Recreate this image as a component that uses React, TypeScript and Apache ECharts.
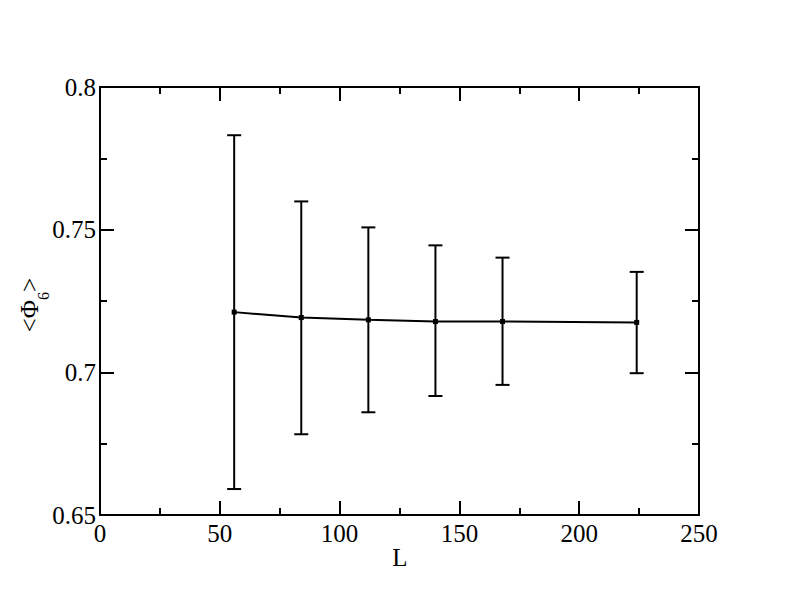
import React, { useEffect, useRef } from "react";
import * as echarts from "echarts";

const L = [56, 84, 112, 140, 168, 224];
const phi6 = [0.7211, 0.7192, 0.7184, 0.7178, 0.7178, 0.7175];
const errUp = [0.0620, 0.0407, 0.0324, 0.0267, 0.0224, 0.0177];
const errDown = [0.0620, 0.0409, 0.0324, 0.0261, 0.0222, 0.0178];
const xTicks = [0, 50, 100, 150, 200, 250];
const yTicks = [0.65, 0.7, 0.75, 0.8];

const FONT = "'Liberation Serif', 'Times New Roman', serif";

export default function App() {
  const ref = useRef<HTMLDivElement>(null);
  useEffect(() => {
    if (!ref.current) return;
    const chart = echarts.init(ref.current, null, { renderer: "svg" });
    const lineData = L.map((x, i) => [x, phi6[i]]);
    const errData = L.map((x, i) => [x, phi6[i] - errDown[i], phi6[i] + errUp[i]]);
    const axisCommon = {
      axisLine: { show: true, onZero: false, lineStyle: { color: "#000", width: 2 } },
      axisTick: { show: true, inside: true, length: 14, lineStyle: { color: "#000", width: 2 } },
      minorTick: { show: true, splitNumber: 2, length: 7, lineStyle: { color: "#000", width: 2 } },
      splitLine: { show: false },
      minorSplitLine: { show: false },
    };
    chart.setOption({
      animation: false,
      backgroundColor: "#fff",
      grid: { left: 100, right: 93, top: 87, bottom: 92, containLabel: false },
      xAxis: [
        {
          type: "value",
          position: "bottom",
          min: xTicks[0],
          max: xTicks[xTicks.length - 1],
          interval: 50,
          ...axisCommon,
          axisLabel: { color: "#000", fontSize: 25, fontFamily: FONT, margin: 6 },
        },
        {
          type: "value",
          position: "top",
          min: xTicks[0],
          max: xTicks[xTicks.length - 1],
          interval: 50,
          ...axisCommon,
          axisLabel: { show: false },
        },
      ],
      yAxis: [
        {
          type: "value",
          position: "left",
          min: yTicks[0],
          max: yTicks[yTicks.length - 1],
          interval: 0.05,
          ...axisCommon,
          axisLabel: {
            color: "#000",
            fontSize: 25,
            fontFamily: FONT,
            margin: 4,
            formatter: (v: number) => String(Math.round(v * 100) / 100),
          },
        },
        {
          type: "value",
          position: "right",
          min: yTicks[0],
          max: yTicks[yTicks.length - 1],
          interval: 0.05,
          ...axisCommon,
          axisLabel: { show: false },
        },
      ],
      graphic: [
        {
          type: "text",
          x: 400,
          y: 557,
          style: {
            text: "L",
            fill: "#000",
            fontSize: 25,
            fontFamily: FONT,
            align: "center",
            verticalAlign: "middle",
          },
        },
        {
          type: "text",
          x: 29,
          y: 305,
          rotation: Math.PI / 2,
          style: {
            text: "{a|<Φ}{s|6}{a|>}",
            fill: "#000",
            align: "center",
            verticalAlign: "middle",
            rich: {
              a: { fontSize: 25, fontFamily: FONT, lineHeight: 30, fill: "#000" },
              s: { fontSize: 16, fontFamily: FONT, lineHeight: 16, padding: [28, 0, 0, 0], fill: "#000" },
            },
          },
        },
      ],
      series: [
        {
          type: "line",
          data: lineData,
          symbol: "rect",
          symbolSize: 5,
          showSymbol: true,
          itemStyle: { color: "#000" },
          lineStyle: { color: "#000", width: 2 },
          z: 3,
        },
        {
          type: "custom",
          data: errData,
          encode: { x: 0, y: [1, 2] },
          renderItem: (params: any, api: any) => {
            const x = api.value(0);
            const lo = api.coord([x, api.value(1)]);
            const hi = api.coord([x, api.value(2)]);
            const w = 7;
            const st = { stroke: "#000", lineWidth: 2 };
            return {
              type: "group",
              children: [
                { type: "line", shape: { x1: hi[0], y1: hi[1], x2: lo[0], y2: lo[1] }, style: st },
                { type: "line", shape: { x1: hi[0] - w, y1: hi[1], x2: hi[0] + w, y2: hi[1] }, style: st },
                { type: "line", shape: { x1: lo[0] - w, y1: lo[1], x2: lo[0] + w, y2: lo[1] }, style: st },
              ],
            };
          },
          z: 2,
        },
      ],
    });
    return () => chart.dispose();
  }, []);
  return <div ref={ref} style={{ width: 792, height: 607, position: "absolute", left: 0, top: 0 }} />;
}
